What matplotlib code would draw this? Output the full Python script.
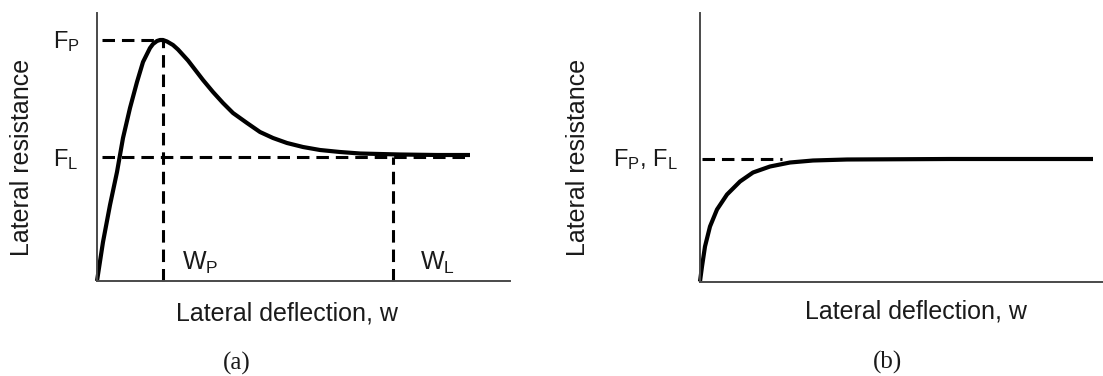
import numpy as np
import matplotlib
matplotlib.use("Agg")
import matplotlib.pyplot as plt

plt.rcParams['font.family'] = ['Liberation Sans', 'DejaVu Sans']
plt.rcParams['mathtext.fontset'] = 'custom'
plt.rcParams['mathtext.rm'] = 'Liberation Sans'
plt.rcParams['mathtext.it'] = 'Liberation Sans'
plt.rcParams['lines.scale_dashes'] = False

# (a) softening response: deflection vs resistance
wa = [0, 6, 13, 20, 26, 33, 40, 46, 50, 53, 56, 60, 63, 66, 70, 76, 81, 86, 91, 96,
      101, 106, 116, 126, 136, 150, 163, 176, 190, 206, 223, 243, 263, 283, 303, 340, 373]
fa = [0, 39, 76, 109, 143, 173, 199, 219, 227, 233, 237, 240, 241, 241, 239.5, 236,
      231.5, 226, 220.5, 214, 207.5, 201, 189, 178, 168, 158, 149, 143, 138, 134, 131,
      129, 127.5, 127, 126.5, 126, 126]
FP_a = 241   # peak resistance
FL_a = 124   # limit resistance
WP_a = 66    # deflection at peak
WL_a = 296   # deflection at limit

# (b) hardening response
wb = [0, 2, 5, 10, 17, 27, 40, 53, 70, 90, 113, 147, 250, 393]
fb = [0, 15, 35, 55, 72, 87, 100, 109, 115, 119, 121, 122, 122.5, 122.5]
F_b = 123

W, H = 1103, 376
txt = '#1a1a1a'

def fx(x):
    return x / W

def fy(y):
    return 1 - y / H

fig = plt.figure(figsize=(W / 100, H / 100), dpi=100)

def make_ax(left, right, bottom, top):
    ax = fig.add_axes([fx(left), fy(bottom), (right - left) / W, (bottom - top) / H])
    ax.set_xlim(0, right - left)
    ax.set_ylim(0, bottom - top)
    for s in ['top', 'right']:
        ax.spines[s].set_visible(False)
    for s in ['left', 'bottom']:
        ax.spines[s].set_color('#4a4a4a')
        ax.spines[s].set_linewidth(1.4)
    ax.set_xticks([])
    ax.set_yticks([])
    ax.patch.set_alpha(0)
    return ax

dash = dict(color='black', lw=2.2, dashes=(9, 5), clip_on=False)
curve = dict(color='black', lw=3.0, solid_capstyle='butt', solid_joinstyle='round', clip_on=False)

# panel (a)
ax1 = make_ax(97, 510, 281, 13)
ax1.plot([5, WP_a], [FP_a, FP_a], **dash)
ax1.plot([5, 373], [FL_a, FL_a], **dash)
ax1.plot([WP_a, WP_a], [0, FP_a], **dash)
ax1.plot([WL_a, WL_a], [0, FL_a], **dash)
ax1.plot(wa, fa, **curve)

# panel (b)
ax2 = make_ax(700, 1103, 281.5, 13)
ax2.plot([2, 82], [F_b, F_b], **dash)
ax2.plot(wb, fb, **curve)

# labels
fig.text(fx(53), fy(48), r'$\mathrm{F}_\mathrm{P}$', fontsize=17, color=txt, va='baseline')
fig.text(fx(53), fy(166), r'$\mathrm{F}_\mathrm{L}$', fontsize=17, color=txt, va='baseline')
fig.text(fx(182), fy(270), r'$\mathrm{W}_\mathrm{P}$', fontsize=18, color=txt, va='baseline')
fig.text(fx(420), fy(270), r'$\mathrm{W}_\mathrm{L}$', fontsize=18, color=txt, va='baseline')
fig.text(fx(613), fy(166), r'$\mathrm{F}_\mathrm{P}$, $\mathrm{F}_\mathrm{L}$', fontsize=17,
         color=txt, va='baseline')

fig.text(fx(287), fy(321), 'Lateral deflection, w', fontsize=18, color=txt,
         ha='center', va='baseline')
fig.text(fx(916), fy(319), 'Lateral deflection, w', fontsize=18, color=txt,
         ha='center', va='baseline')
fig.text(fx(22), fy(157), 'Lateral resistance', fontsize=18, color=txt,
         rotation=90, ha='center', va='center')
fig.text(fx(578), fy(157), 'Lateral resistance', fontsize=18, color=txt,
         rotation=90, ha='center', va='center')

fig.text(fx(237), fy(363), '(a)', fontsize=18, color=txt, family='Liberation Serif',
         ha='center', va='center')
fig.text(fx(887), fy(362), '(b)', fontsize=18, color=txt, family='Liberation Serif',
         ha='center', va='center')

fig.savefig('out.png', dpi=100)
